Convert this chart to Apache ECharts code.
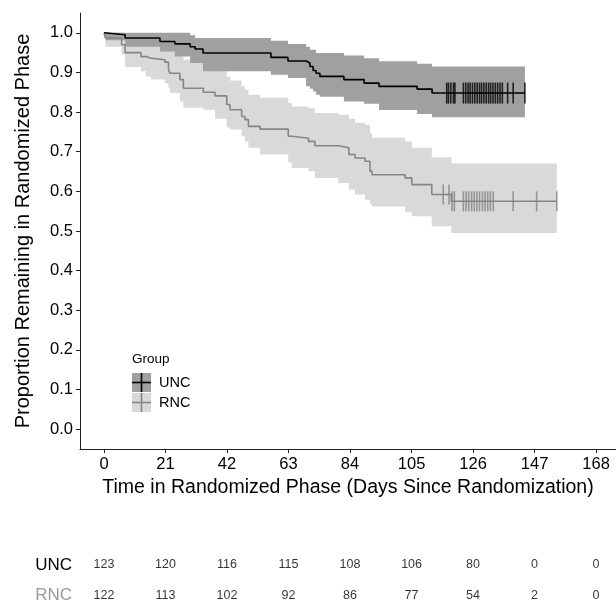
<!DOCTYPE html>
<html>
<head>
<meta charset="utf-8">
<script src="https://cdn.jsdelivr.net/npm/echarts@6/dist/echarts.min.js"></script>
<style>
html,body{margin:0;padding:0;background:#fff;}
#chart{width:616px;height:604px;}
</style>
</head>
<body>
<div id="chart"></div>
<script>
// ---- Data ----
const xTicks = [0, 21, 42, 63, 84, 105, 126, 147, 168];
const yTicks = [0, 0.1, 0.2, 0.3, 0.4, 0.5, 0.6, 0.7, 0.8, 0.9, 1.0];
const groups = ['UNC', 'RNC'];

const uncTime  = [0, 0.5, 7.2, 19.1, 24.2, 29.4, 31.1, 33.8, 57.0, 62.8, 69.0, 70.3, 71.4, 72.4, 73.7, 81.9, 88.8, 93.9, 106.9, 112.0, 143.7];
const uncSurv  = [1.0, 0.995, 0.987, 0.978, 0.972, 0.965, 0.959, 0.949, 0.938, 0.929, 0.924, 0.915, 0.905, 0.898, 0.890, 0.882, 0.873, 0.865, 0.858, 0.848, 0.848];
const uncUpper = [1.0, 1.0, 1.0, 1.0, 1.0, 0.994, 0.987, 0.987, 0.980, 0.972, 0.965, 0.957, 0.957, 0.949, 0.949, 0.943, 0.936, 0.928, 0.922, 0.915, 0.915];
const uncLower = [1.0, 0.981, 0.965, 0.953, 0.940, 0.924, 0.924, 0.903, 0.894, 0.886, 0.865, 0.859, 0.852, 0.844, 0.839, 0.827, 0.821, 0.805, 0.795, 0.787, 0.787];
const uncCensor = [117.0, 117.6, 118.4, 119.3, 119.8, 122.7, 123.5, 124.3, 125.0, 125.8, 126.6, 127.4, 128.2, 128.9, 129.7, 130.5, 131.3, 132.0, 132.8, 133.6, 134.4, 135.2, 136.0, 137.8, 139.7, 143.7];

const rncTime  = [0, 0.5, 6.0, 7.2, 12.6, 14.3, 16.0, 20.8, 22.0, 22.5, 25.9, 27.1, 33.9, 37.9, 41.9, 43.0, 47.0, 48.1, 49.3, 53.3, 62.9, 64.1, 69.8, 72.0, 80.0, 83.6, 85.7, 89.1, 90.8, 91.5, 102.8, 105.1, 111.9, 118.6, 154.6];
const rncSurv  = [1.0, 0.987, 0.970, 0.950, 0.940, 0.936, 0.932, 0.926, 0.907, 0.898, 0.882, 0.860, 0.850, 0.841, 0.819, 0.806, 0.789, 0.781, 0.764, 0.757, 0.739, 0.734, 0.726, 0.715, 0.710, 0.693, 0.684, 0.676, 0.651, 0.642, 0.634, 0.617, 0.592, 0.575, 0.575];
const rncUpper = [1.0, 1.0, 0.997, 0.992, 0.987, 0.985, 0.982, 0.977, 0.967, 0.962, 0.950, 0.932, 0.917, 0.907, 0.889, 0.880, 0.865, 0.856, 0.844, 0.836, 0.823, 0.814, 0.810, 0.798, 0.793, 0.783, 0.773, 0.768, 0.747, 0.735, 0.726, 0.710, 0.686, 0.670, 0.670];
const rncLower = [1.0, 0.965, 0.945, 0.914, 0.903, 0.890, 0.882, 0.873, 0.861, 0.848, 0.827, 0.811, 0.806, 0.783, 0.761, 0.756, 0.739, 0.726, 0.710, 0.693, 0.673, 0.659, 0.651, 0.634, 0.621, 0.605, 0.592, 0.579, 0.567, 0.562, 0.547, 0.537, 0.512, 0.495, 0.495];
const rncCensor = [115.8, 117.8, 118.8, 119.6, 122.7, 123.6, 124.5, 125.5, 126.4, 127.3, 128.2, 129.2, 130.1, 131.0, 131.9, 132.9, 139.7, 147.7, 154.6];

const riskTimes = [0, 21, 42, 63, 84, 105, 126, 147, 168];
const riskUNC = [123, 120, 116, 115, 108, 106, 80, 0, 0];
const riskRNC = [122, 113, 102, 92, 86, 77, 54, 2, 0];

// ---- helpers ----
function stepAt(times, vals, t) {
  let v = vals[0];
  for (let i = 0; i < times.length; i++) { if (times[i] <= t) v = vals[i]; }
  return v;
}
function bandRender(times, upper, lower, fill) {
  return function (params, api) {
    if (params.dataIndex !== 0) return null;
    const n = times.length, pts = [];
    for (let i = 0; i < n; i++) {
      pts.push(api.coord([times[i], upper[i]]));
      if (i + 1 < n) pts.push(api.coord([times[i + 1], upper[i]]));
    }
    for (let i = n - 1; i >= 0; i--) {
      if (i + 1 < n) pts.push(api.coord([times[i + 1], lower[i]]));
      pts.push(api.coord([times[i], lower[i]]));
    }
    return { type: 'polygon', shape: { points: pts }, style: { fill: fill } };
  };
}

const FONT = '"Liberation Sans", Arial, sans-serif';
const XMIN = -8.2, XMAX = 174.8;
const uncColor = '#000000', rncColor = '#858585';

const chart = echarts.init(document.getElementById('chart'), null, { renderer: 'canvas' });
const option = {
  animation: false,
  textStyle: { fontFamily: FONT },
  grid: [
    { left: 80, top: 13, width: 536, height: 436 },
    { left: 80, top: 565, width: 536, height: 33 }
  ],
  xAxis: [
    {
      gridIndex: 0, type: 'value', min: XMIN, max: XMAX,
      axisLine: { show: true, onZero: false, lineStyle: { color: '#222', width: 1 } },
      axisTick: { show: true, customValues: xTicks, length: 4, lineStyle: { color: '#222' } },
      axisLabel: { customValues: xTicks, fontSize: 16.5, color: '#000', margin: 7, fontFamily: FONT },
      splitLine: { show: false },
      name: 'Time in Randomized Phase (Days Since Randomization)',
      nameLocation: 'middle', nameGap: 28,
      nameTextStyle: { fontSize: 19.5, color: '#000', fontFamily: FONT }
    },
    {
      gridIndex: 1, type: 'value', min: XMIN, max: XMAX, show: false
    }
  ],
  yAxis: [
    {
      gridIndex: 0, type: 'value', min: -0.05, max: 1.05,
      axisLine: { show: true, onZero: false, lineStyle: { color: '#222', width: 1 } },
      axisTick: { show: true, customValues: yTicks, length: 4, lineStyle: { color: '#222' } },
      axisLabel: { customValues: yTicks, fontSize: 16.5, color: '#000', margin: 7, fontFamily: FONT,
        formatter: v => v.toFixed(1) },
      splitLine: { show: false },
      name: 'Proportion Remaining in Randomized Phase',
      nameLocation: 'middle', nameGap: 47, nameRotate: 90,
      nameTextStyle: { fontSize: 20, color: '#000', fontFamily: FONT }
    },
    {
      gridIndex: 1, type: 'value', min: 0, max: 1,
      axisLine: { show: false }, axisTick: { show: false }, splitLine: { show: false },
      axisLabel: {
        customValues: [0, 1], margin: 8, fontSize: 17, fontFamily: FONT,
        formatter: v => v === 1 ? '{u|UNC}' : '{r|RNC}',
        rich: { u: { color: '#000', fontSize: 17 }, r: { color: '#9a9a9a', fontSize: 17 } }
      }
    }
  ],
  series: [
    {
      type: 'custom', xAxisIndex: 0, yAxisIndex: 0, data: [[0, 1]], silent: true, z: 1,
      renderItem: bandRender(rncTime, rncUpper, rncLower, '#d9d9d9')
    },
    {
      type: 'custom', xAxisIndex: 0, yAxisIndex: 0, data: [[0, 1]], silent: true, z: 2,
      renderItem: bandRender(uncTime, uncUpper, uncLower, '#a0a0a0')
    },
    {
      type: 'line', name: 'UNC', xAxisIndex: 0, yAxisIndex: 0, step: 'end', showSymbol: false, z: 4,
      data: uncTime.map((t, i) => [t, uncSurv[i]]),
      lineStyle: { color: uncColor, width: 1.6 }
    },
    {
      type: 'line', name: 'RNC', xAxisIndex: 0, yAxisIndex: 0, step: 'end', showSymbol: false, z: 3,
      data: rncTime.map((t, i) => [t, rncSurv[i]]),
      lineStyle: { color: rncColor, width: 1.6 }
    },
    {
      type: 'scatter', xAxisIndex: 0, yAxisIndex: 0, symbol: 'rect', symbolSize: [1.6, 21], z: 4,
      data: uncCensor.map(t => [t, stepAt(uncTime, uncSurv, t)]),
      itemStyle: { color: uncColor }
    },
    {
      type: 'scatter', xAxisIndex: 0, yAxisIndex: 0, symbol: 'rect', symbolSize: [1.6, 20], z: 3,
      data: rncCensor.map(t => [t, stepAt(rncTime, rncSurv, t)]),
      itemStyle: { color: rncColor }
    },
    {
      type: 'scatter', xAxisIndex: 1, yAxisIndex: 1, symbolSize: 0,
      data: riskTimes.map((t, i) => ({ value: [t, 1], n: riskUNC[i] })),
      label: { show: true, position: 'inside', formatter: p => String(p.data.n), fontSize: 12.5, color: '#000', fontFamily: FONT }
    },
    {
      type: 'scatter', xAxisIndex: 1, yAxisIndex: 1, symbolSize: 0,
      data: riskTimes.map((t, i) => ({ value: [t, 0], n: riskRNC[i] })),
      label: { show: true, position: 'inside', formatter: p => String(p.data.n), fontSize: 12.5, color: '#000', fontFamily: FONT }
    }
  ],
  graphic: [
    { type: 'text', left: 132, top: 352, style: { text: 'Group', fontSize: 13.5, fill: '#000', fontFamily: FONT } },
    { type: 'rect', shape: { x: 132, y: 373, width: 19, height: 19 }, style: { fill: '#a0a0a0' } },
    { type: 'line', shape: { x1: 141.5, y1: 373, x2: 141.5, y2: 392 }, style: { stroke: uncColor, lineWidth: 1.6 } },
    { type: 'line', shape: { x1: 132, y1: 382.5, x2: 151, y2: 382.5 }, style: { stroke: uncColor, lineWidth: 1.6 } },
    { type: 'rect', shape: { x: 132, y: 393, width: 19, height: 19 }, style: { fill: '#d9d9d9' } },
    { type: 'line', shape: { x1: 141.5, y1: 393, x2: 141.5, y2: 412 }, style: { stroke: rncColor, lineWidth: 1.6 } },
    { type: 'line', shape: { x1: 132, y1: 402.5, x2: 151, y2: 402.5 }, style: { stroke: rncColor, lineWidth: 1.6 } },
    { type: 'text', left: 159, top: 375, style: { text: 'UNC', fontSize: 14.5, fill: '#000', fontFamily: FONT } },
    { type: 'text', left: 159, top: 395, style: { text: 'RNC', fontSize: 14.5, fill: '#000', fontFamily: FONT } }
  ]
};
chart.setOption(option);
</script>
</body>
</html>
